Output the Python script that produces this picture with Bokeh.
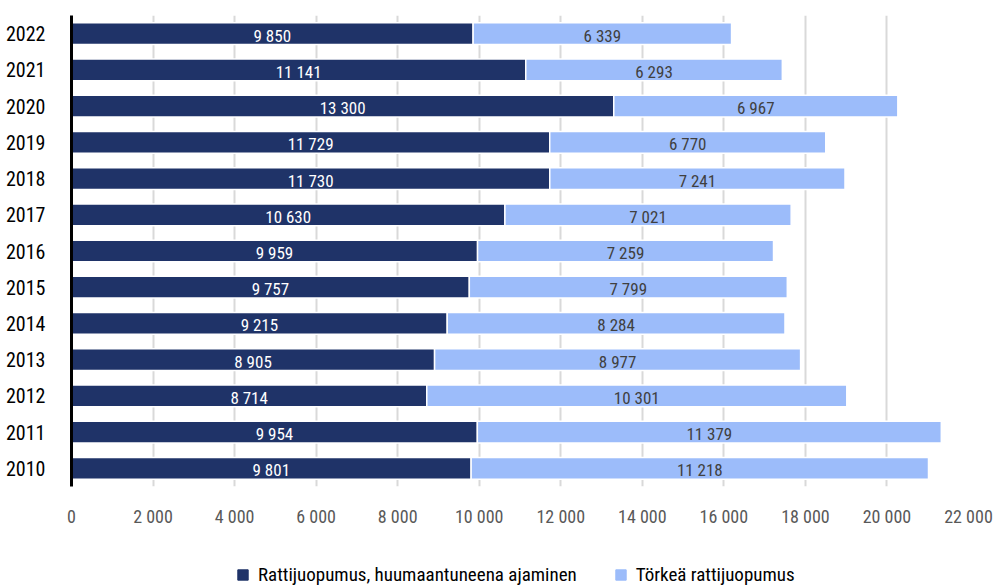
from bokeh.plotting import figure
from bokeh.layouts import column
from bokeh.models import ColumnDataSource, FactorRange, Range1d, Legend, LegendItem, FixedTicker
from bokeh.core.properties import value
from bokeh.embed import file_html
from bokeh.resources import INLINE

years = ["2010", "2011", "2012", "2013", "2014", "2015", "2016", "2017", "2018", "2019", "2020", "2021", "2022"]
rattijuopumus = [9801, 9954, 8714, 8905, 9215, 9757, 9959, 10630, 11730, 11729, 13300, 11141, 9850]
torkea = [11218, 11379, 10301, 8977, 8284, 7799, 7259, 7021, 7241, 6770, 6967, 6293, 6339]
series_names = ["Rattijuopumus, huumaantuneena ajaminen", "Törkeä rattijuopumus"]
x_ticks = [0, 2000, 4000, 6000, 8000, 10000, 12000, 14000, 16000, 18000, 20000, 22000]

DARK = "#1f3368"
LIGHT = "#9cbcfa"
FONT = "Roboto Condensed, Roboto, sans-serif"

def fmt(v):
    return f"{v:,}".replace(",", " ")

total = [a + b for a, b in zip(rattijuopumus, torkea)]
src = ColumnDataSource(dict(
    year=years,
    dark=rattijuopumus,
    light=torkea,
    total=total,
    zero=[0] * len(years),
    dark_mid=[a / 2 for a in rattijuopumus],
    light_mid=[a + b / 2 for a, b in zip(rattijuopumus, torkea)],
    dark_lbl=[fmt(v) for v in rattijuopumus],
    light_lbl=[fmt(v) for v in torkea],
))

W = 993
p = figure(width=W, height=531, y_range=FactorRange(factors=years, range_padding=0),
           x_range=Range1d(0, 22000), output_backend="svg", toolbar_location=None,
           min_border_left=71, min_border_right=W - 71 - 897, min_border_top=15, min_border_bottom=45)

r1 = p.hbar(y="year", left="zero", right="dark", height=0.6, source=src,
            fill_color=DARK, line_color="white", line_width=1.5)
r2 = p.hbar(y="year", left="dark", right="total", height=0.6, source=src,
            fill_color=LIGHT, line_color="white", line_width=1.5)

p.text(x="dark_mid", y="year", text="dark_lbl", source=src, text_align="center",
       text_baseline="middle", text_color="white", text_font=value(FONT),
       text_font_size="17px", y_offset=2)
p.text(x="light_mid", y="year", text="light_lbl", source=src, text_align="center",
       text_baseline="middle", text_color="#404040", text_font=value(FONT),
       text_font_size="17px", y_offset=2)

p.outline_line_color = None
p.ygrid.grid_line_color = None
p.xgrid.grid_line_color = "#d9d9d9"
p.xgrid.grid_line_width = 2
p.xgrid.ticker = FixedTicker(ticks=x_ticks)

p.xaxis.ticker = FixedTicker(ticks=x_ticks)
p.xaxis.major_label_overrides = {t: fmt(t) for t in x_ticks}
p.xaxis.axis_line_color = None
p.xaxis.major_tick_line_color = None
p.xaxis.minor_tick_line_color = None
p.xaxis.major_label_standoff = 13
p.xaxis.major_label_text_font = FONT
p.xaxis.major_label_text_font_size = "18px"
p.xaxis.major_label_text_color = "#595959"

p.yaxis.axis_line_color = "black"
p.yaxis.axis_line_width = 3
p.yaxis.major_tick_line_color = None
p.yaxis.minor_tick_line_color = None
p.yaxis.major_label_standoff = 20
p.yaxis.major_label_text_font = FONT
p.yaxis.major_label_text_font_size = "20px"
p.yaxis.major_label_text_color = "black"

# legend strip below the chart (its renderers are hidden copies of the bars, used only for the swatches)
lp = figure(width=W, height=55, output_backend="svg", toolbar_location=None,
            y_range=FactorRange(factors=years), x_range=Range1d(0, 22000),
            x_axis_location=None, y_axis_location=None,
            min_border_left=71, min_border_right=W - 71 - 897, min_border_top=0, min_border_bottom=0)
lp.outline_line_color = None
lp.xgrid.visible = False
lp.ygrid.visible = False
l1 = lp.hbar(y="year", left="zero", right="dark", height=0.6, source=src,
             fill_color=DARK, line_color=DARK, visible=False)
l2 = lp.hbar(y="year", left="dark", right="total", height=0.6, source=src,
             fill_color=LIGHT, line_color=LIGHT, visible=False)

legend = Legend(items=[LegendItem(label=series_names[0], renderers=[l1]),
                       LegendItem(label=series_names[1], renderers=[l2])],
                orientation="horizontal", location=(165, 0),
                label_text_font=FONT, label_text_font_size="19px", label_text_color="black",
                glyph_width=13, glyph_height=13, spacing=37, label_standoff=9,
                border_line_color=None, background_fill_alpha=0, margin=0, padding=0,
                click_policy="none")
lp.add_layout(legend, "center")

layout = column(p, lp, spacing=0)
open("out.html", "w").write(file_html(layout, INLINE))
